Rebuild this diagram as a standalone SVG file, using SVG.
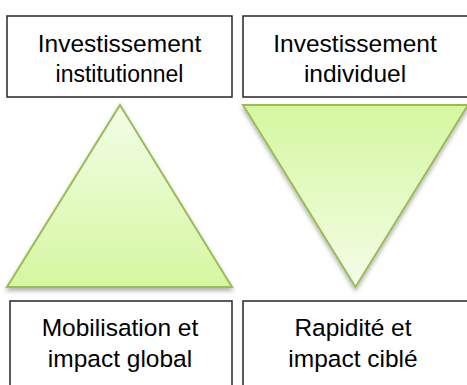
<svg xmlns="http://www.w3.org/2000/svg" width="467" height="385" viewBox="0 0 467 385">
  <style>
    .box { fill: #ffffff; stroke: #262626; stroke-width: 1.5; }
    .tri { stroke: #9bbb59; stroke-width: 2; stroke-linejoin: miter; filter: url(#shadow); }
    .label { font-family: "Liberation Sans", Arial, sans-serif; font-size: 24.5px; fill: #000000; text-anchor: middle; }
    .small { font-size: 23px; }
  </style>
  <defs>
    <linearGradient id="gradUp" x1="0" y1="0" x2="0" y2="1">
      <stop offset="0" stop-color="#f3fde8"/>
      <stop offset="1" stop-color="#d5f79f"/>
    </linearGradient>
    <linearGradient id="gradDown" x1="0" y1="0" x2="0" y2="1">
      <stop offset="0" stop-color="#d5f79f"/>
      <stop offset="1" stop-color="#f3fde8"/>
    </linearGradient>
    <filter id="shadow" x="-10%" y="-10%" width="120%" height="125%">
      <feDropShadow dx="0" dy="3" stdDeviation="2" flood-color="#000000" flood-opacity="0.3"/>
    </filter>
  </defs>

  <g id="box-institutionnel">
    <rect class="box" x="7" y="16" width="225" height="81"/>
    <text class="label" x="119.5" y="52">Investissement</text>
    <text class="label small" x="119.5" y="82">institutionnel</text>
  </g>

  <g id="box-individuel">
    <rect class="box" x="243" y="16" width="230" height="81"/>
    <text class="label" x="355" y="52">Investissement</text>
    <text class="label" x="355" y="82">individuel</text>
  </g>

  <g id="triangle-up">
    <polygon class="tri" points="120,105 232,287 7,287" fill="url(#gradUp)"/>
  </g>

  <g id="triangle-down">
    <polygon class="tri" points="243,105 468,105 355.5,287" fill="url(#gradDown)"/>
  </g>

  <g id="box-mobilisation">
    <rect class="box" x="10" y="301" width="222" height="100"/>
    <text class="label" x="120" y="336">Mobilisation et</text>
    <text class="label" x="120" y="367">impact global</text>
  </g>

  <g id="box-rapidite">
    <rect class="box" x="243" y="301" width="230" height="100"/>
    <text class="label" x="353" y="336">Rapidité et</text>
    <text class="label" x="353" y="367">impact ciblé</text>
  </g>

  <g id="connectors"></g>
</svg>
